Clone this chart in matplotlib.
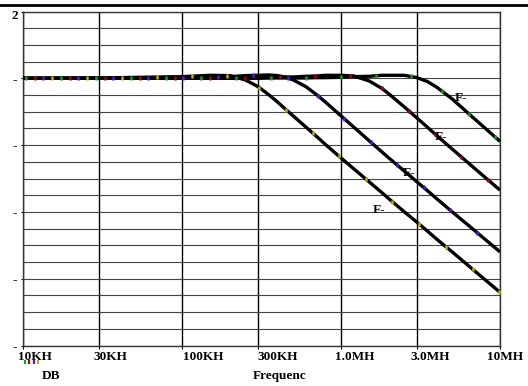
import numpy as np
import matplotlib
matplotlib.use("Agg")
import matplotlib.pyplot as plt
from matplotlib.lines import Line2D
from matplotlib.transforms import ScaledTranslation

# frequency points (Hz) and gain (dB)
freq = [1e4, 3e4, 1e5, 1.5e5, 2e5, 2.5e5, 3e5, 3.5e5, 4e5, 4.5e5, 5e5, 6e5, 7e5, 8e5,
        1e6, 1.2e6, 1.5e6, 1.8e6, 2e6, 2.5e6, 3e6, 3.5e6, 4e6, 5e6, 7e6, 1e7]
db_green = [0, 0, 0, 0, 0, 0, 0, 0.1, 0.1, 0.1, 0.1, 0.1, 0.2, 0.2,
            0.3, 0.5, 0.6, 0.9, 0.9, 0.9, 0.2, -1.0, -2.7, -6.2, -12.4, -18.9]
db_red = [0, 0, 0, 0, 0.1, 0.1, 0.2, 0.2, 0.3, 0.4, 0.4, 0.6, 0.7, 0.9,
          0.9, 0.7, -0.8, -3.0, -4.7, -8.6, -11.9, -14.7, -17.2, -21.2, -27.2, -33.5]
db_blue = [0, 0, 0.2, 0.3, 0.5, 0.8, 0.9, 1.0, 0.8, 0.3, -0.5, -2.5, -4.9, -7.2,
           -11.3, -14.6, -18.7, -22.0, -23.9, -27.8, -31.0, -33.7, -36.1, -40.0, -45.8, -52.0]
db_yellow = [0, 0.1, 0.5, 0.9, 0.8, -0.5, -2.5, -4.9, -7.2, -9.4, -11.3, -14.6, -17.4, -19.9,
             -23.9, -27.1, -31.0, -34.2, -36.1, -40.0, -43.1, -45.8, -48.2, -52.0, -57.9, -64.1]

xtick_vals = [1e4, 3e4, 1e5, 3e5, 1e6, 3e6, 1e7]
xtick_labels = ["10KH", "30KH", "100KH", "300KH", "1.0MH", "3.0MH", "10MH"]
xlabel_shift = [-5, -6, 1, -1, -6, -7, -13]   # px, left edge relative to grid line
ytick_vals = [20, 0, -20, -40, -60, -80]
ytick_labels = ["2", "-", "-", "-", "-", "-"]

# label positions for the "F-" tags (freq, dB)
tag_pos = [(5.69e6, -5.9), (4.26e6, -17.6), (2.69e6, -28.4), (1.74e6, -39.4)]

colors = ["#17a017", "#b00000", "#5a12e6", "#c0b000"]
series = [db_green, db_red, db_blue, db_yellow]

font = dict(family="Liberation Serif", weight="bold", size=9.5)

fig = plt.figure(figsize=(5.28, 3.86), dpi=100)
ax = fig.add_subplot(111)
fig.subplots_adjust(left=0.0441, right=0.9472, bottom=0.1049, top=0.9702)

ax.set_xscale("log")
ax.set_xlim(1e4, 1e7)
ax.set_ylim(-80, 20)
ax.minorticks_off()
ax.set_xticks(xtick_vals)
ax.set_xticklabels(xtick_labels, **font)
ax.set_yticks(ytick_vals)
ax.set_yticklabels(ytick_labels, **font)
ax.set_yticks(np.arange(-80, 21, 5), minor=True)
ax.tick_params(axis="y", which="major", length=1.5, pad=5, width=0.8)
ax.tick_params(axis="y", which="minor", length=0)
ax.tick_params(axis="x", which="major", length=2, pad=2, width=0.8)
for i, lab in enumerate(ax.get_yticklabels()):
    lab.set_ha("center")
    if i == 0:
        lab.set_transform(lab.get_transform() + ScaledTranslation(0.01, -3 / 100, fig.dpi_scale_trans))
for lab, dx in zip(ax.get_xticklabels(), xlabel_shift):
    lab.set_ha("left")
    lab.set_transform(lab.get_transform() + ScaledTranslation(dx / 100, 0, fig.dpi_scale_trans))

ax.grid(True, axis="x", which="major", color="black", lw=1.0)
ax.grid(True, axis="y", which="both", color="#444444", lw=0.8)
for sp in ax.spines.values():
    sp.set_color("#333333")
    sp.set_linewidth(1.0)

for db in series:
    ax.plot(freq, db, color="black", lw=2.4, solid_capstyle="butt",
            solid_joinstyle="round", zorder=3)


def arc_marks(x, y, start, step):
    pts = ax.transData.transform(np.column_stack([x, y]))
    seg = np.hypot(*np.diff(pts, axis=0).T)
    cum = np.concatenate([[0], np.cumsum(seg)])
    s = np.arange(start, cum[-1], step)
    px = np.interp(s, cum, pts[:, 0])
    py = np.interp(s, cum, pts[:, 1])
    return ax.transData.inverted().transform(np.column_stack([px, py]))


for k, (db, c) in enumerate(zip(series, colors)):
    m = arc_marks(freq, db, 2.7 + 8.7 * k, 35)
    ax.plot(m[:, 0], m[:, 1], ls="none", marker="|", ms=3.5, mew=1.8,
            color=c, zorder=4)

for (fx, fy) in tag_pos:
    ax.text(fx, fy, "F-", ha="center", va="center", zorder=5, **font)

# small legend ticks under the first label
for k, c in enumerate(colors):
    ax.plot([0.004 + 0.0088 * k], [-0.05], transform=ax.transAxes, clip_on=False,
            ls="none", marker="|", ms=3.5, mew=1.6, color=c)

fig.text(51 / 528, 1 - 376 / 386, "DB", ha="center", va="center", **font)
fig.text(280 / 528, 1 - 376 / 386, "Frequenc", ha="center", va="center", **font)

fig.add_artist(Line2D([0, 1], [1 - 5 / 386, 1 - 5 / 386], transform=fig.transFigure,
                      color="black", lw=2.0))

fig.savefig("out.png", dpi=100)
